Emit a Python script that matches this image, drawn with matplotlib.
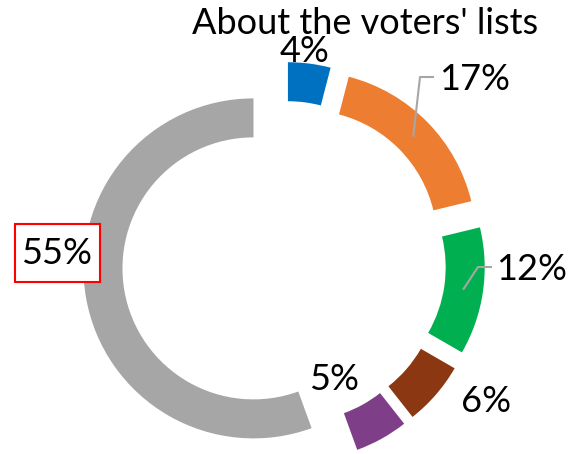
import numpy as np
import matplotlib.pyplot as plt
from matplotlib.patches import Rectangle

plt.rcParams['font.family'] = ['Lato', 'DejaVu Sans']

categories = ['A', 'B', 'C', 'D', 'E', 'F']
shares = [4, 17, 12, 6, 5, 55]
labels = ['4%', '17%', '12%', '6%', '5%', '55%']
colors = ['#0070C0', '#ED7D31', '#00B050', '#8B3712', '#7F3F88', '#A6A6A6']

W, H = 572, 454
fig = plt.figure(figsize=(W / 100, H / 100), dpi=100)
ax = fig.add_axes([0, 0, 1, 1])

# ring geometry in pixels (y measured from the top)
cx, cy = 284, 263
radius = 170
ring = 39
gap = 31

ax.pie(shares, colors=colors, startangle=90, counterclock=False,
       center=(cx, H - cy), radius=radius, explode=[gap] * len(shares),
       wedgeprops=dict(width=ring, linewidth=0))
ax.set_xlim(0, W)
ax.set_ylim(0, H)
ax.set_aspect('equal')
ax.axis('off')

# middle angle of each slice (clockwise from 12 o'clock)
fr = np.array(shares) / np.sum(shares)
mid = (np.cumsum(fr) - fr / 2) * 360


def ring_point(i, r):
    a = np.radians(mid[i])
    d = gap + r
    return cx + d * np.sin(a), H - (cy - d * np.cos(a))


# label anchors (x, y from top) and optional leader elbows
label_pos = [(305, 51), (475, 79), (532, 269), (486, 402), (334, 379), (57, 254)]
elbows = {1: [(420, 77), (433, 77)], 2: [(478, 267), (491, 267)]}

for i, (x, y) in enumerate(label_pos):
    ax.text(x, H - y, labels[i], fontsize=26, ha='center', va='center',
            color='black', zorder=5)
    if i in elbows:
        sx, sy = ring_point(i, radius - ring / 2)
        xs = [sx] + [p[0] for p in elbows[i]]
        ys = [sy] + [H - p[1] for p in elbows[i]]
        ax.plot(xs, ys, color='#A6A6A6', lw=1.5, zorder=4)

# boxed label for the largest slice
ax.add_patch(Rectangle((15, H - 282), 85, 58, facecolor='white',
                       edgecolor='#FF0000', lw=1.5, zorder=4))

ax.text(365, H - 24, "About the voters' lists", fontsize=26,
        ha='center', va='center', color='black', zorder=6)

fig.savefig('out.png', dpi=100)
